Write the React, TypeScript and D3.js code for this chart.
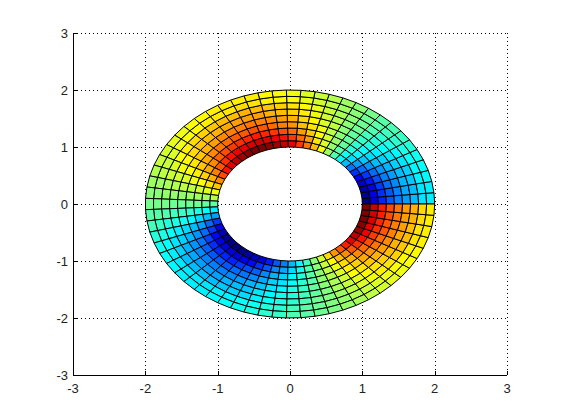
import React from "react";
import * as d3 from "d3";

const ringRadii = [1, 1.111, 1.222, 1.333, 1.444, 1.556, 1.667, 1.778, 1.889, 2];
const xTicks = [-3, -2, -1, 0, 1, 2, 3];
const yTicks = [-3, -2, -1, 0, 1, 2, 3];

// colour position (0 to 100 along the jet map) of each cell: one row per sector, inner ring first
const sectorColors = [
  [0,9,16,21,25,28,31,35,36],
  [2,10,17,21,25,29,31,35,36],
  [4,11,18,23,26,30,32,36,37],
  [7,14,20,25,28,31,33,37,38],
  [12,18,23,27,30,33,35,38,39],
  [17,23,27,31,33,35,37,40,41],
  [24,28,32,34,36,38,40,42,43],
  [31,34,37,38,40,41,42,44,45],
  [37,39,41,42,43,44,45,46,46],
  [45,46,47,47,47,48,48,48,49],
  [53,52,52,51,51,51,51,51,51],
  [61,59,58,56,56,55,54,53,53],
  [69,65,63,61,59,58,57,56,55],
  [76,72,68,65,63,61,60,58,57],
  [82,77,72,69,66,64,62,60,59],
  [89,82,77,73,70,67,65,62,61],
  [93,86,80,75,72,69,67,63,62],
  [97,89,82,77,74,70,68,64,63],
  [99,91,84,79,75,72,69,65,64],
  [100,92,85,80,76,72,70,66,64],
  [100,91,84,79,75,72,69,65,64],
  [99,90,83,79,75,71,69,65,64],
  [97,89,82,77,74,70,68,64,63],
  [94,86,80,76,72,69,67,63,62],
  [90,83,78,74,70,68,66,62,61],
  [86,79,74,71,68,66,64,61,60],
  [80,75,71,68,65,63,62,59,58],
  [74,70,67,64,62,61,59,57,57],
  [68,65,62,61,59,58,57,56,55],
  [61,59,58,56,56,55,54,53,53],
  [55,54,53,53,52,52,52,51,51],
  [47,47,48,48,48,48,49,49,49],
  [36,38,40,42,43,44,45,46,46],
  [28,31,34,37,39,40,41,43,44],
  [18,23,28,31,34,36,38,40,41],
  [11,18,23,27,30,33,35,38,39],
  [6,13,19,24,27,30,33,36,38],
  [2,10,17,22,26,29,31,35,37],
  [0,9,16,21,25,28,31,35,36],
  [0,9,16,21,25,28,31,35,36],
  [1,9,16,21,25,28,31,35,36],
  [4,11,18,23,26,30,32,36,37],
  [6,13,20,24,28,31,33,36,38],
  [10,17,22,26,30,32,34,38,39],
  [15,21,26,29,32,35,36,39,40],
  [21,26,30,33,35,37,38,41,42],
  [25,29,33,35,37,39,40,42,43],
  [31,34,37,38,40,41,42,44,45],
  [37,39,41,42,43,44,45,46,46],
  [44,45,46,46,47,47,48,48,48],
  [51,51,51,51,51,50,50,50,50],
  [58,57,56,55,54,54,53,52,52],
  [66,63,61,59,58,57,56,55,54],
  [73,69,66,64,62,60,59,57,56],
  [79,74,70,67,65,63,61,59,58],
  [85,79,74,71,68,65,64,61,60],
  [90,83,77,73,70,67,65,62,61],
  [94,86,80,76,72,69,67,63,62],
  [97,89,82,77,74,70,68,64,63],
  [99,90,83,79,75,71,69,65,64],
  [100,91,84,79,75,72,69,65,64],
  [100,92,85,80,76,72,70,66,64],
  [100,92,85,80,76,72,70,66,64],
];

const W = 561;
const H = 420;
const x = d3.scaleLinear().domain([-3, 3]).range([73, 507]);
const y = d3.scaleLinear().domain([-3, 3]).range([375, 33]);
const jet = d3
  .scaleLinear<string>()
  .domain([0, 12.5, 37.5, 62.5, 87.5, 100])
  .range(["#000080", "#0000ff", "#00ffff", "#ffff00", "#ff0000", "#800000"])
  .interpolate(d3.interpolateRgb);

const line = d3.line<[number, number]>().x((d) => x(d[0])).y((d) => y(d[1]));
const polar = (r: number, a: number): [number, number] => [r * Math.cos(a), r * Math.sin(a)];
const step = (2 * Math.PI) / sectorColors.length;

export default function App() {
  return (
    <svg width={W} height={H} style={{ position: "absolute", left: 0, top: 0, background: "#fff" }}>
      <g stroke="#000" strokeWidth={1} strokeDasharray="1 3" fill="none">
        {xTicks.slice(1).map((t) => (
          <line key={t} x1={Math.round(x(t)) + 0.5} x2={Math.round(x(t)) + 0.5} y1={33} y2={375} />
        ))}
        {yTicks.slice(1).map((t) => (
          <line key={t} x1={73} x2={507} y1={Math.round(y(t)) + 0.5} y2={Math.round(y(t)) + 0.5} />
        ))}
      </g>
      <g stroke="#000" strokeWidth={1} strokeLinejoin="round">
        {sectorColors.map((rings, k) =>
          rings.map((c, j) => {
            const a0 = k * step;
            const a1 = (k + 1) * step;
            const r0 = ringRadii[j];
            const r1 = ringRadii[j + 1];
            const d = line([polar(r0, a0), polar(r1, a0), polar(r1, a1), polar(r0, a1)]) + "Z";
            return <path key={`${k}-${j}`} d={d} fill={jet(c)} />;
          })
        )}
      </g>
      <g stroke="#000" strokeWidth={1}>
        <line x1={73.5} x2={73.5} y1={33} y2={375.5} />
        <line x1={73} x2={507} y1={375.5} y2={375.5} />
        {xTicks.map((t) => (
          <line key={t} x1={Math.round(x(t)) + 0.5} x2={Math.round(x(t)) + 0.5} y1={375} y2={371} />
        ))}
        {yTicks.map((t) => (
          <line key={t} x1={73} x2={77} y1={Math.round(y(t)) + 0.5} y2={Math.round(y(t)) + 0.5} />
        ))}
      </g>
      <g fontFamily="'Liberation Sans', Arial, sans-serif" fontSize={13} fill="#222">
        {xTicks.map((t) => (
          <text key={t} x={x(t)} y={393} textAnchor="middle">{t}</text>
        ))}
        {yTicks.map((t) => (
          <text key={t} x={68} y={y(t) + 5} textAnchor="end">{t}</text>
        ))}
      </g>
    </svg>
  );
}
